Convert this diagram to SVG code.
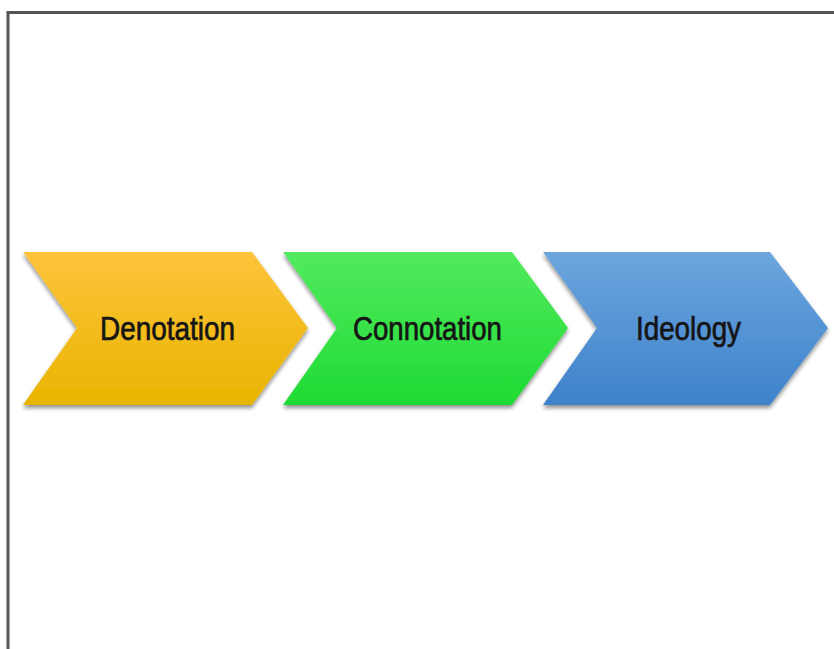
<svg xmlns="http://www.w3.org/2000/svg" width="834" height="649" viewBox="0 0 834 649">
<style>
.lbl{font-family:"Liberation Sans",Arial,sans-serif;font-size:33px;fill:#151515;stroke:#151515;stroke-width:0.7;text-anchor:start}
.frame{fill:none;stroke:#555;stroke-width:3}
</style>
<defs>
<linearGradient id="gy" x1="0" y1="0" x2="0" y2="1"><stop offset="0" stop-color="#fdc43c"/><stop offset="1" stop-color="#e9b400"/></linearGradient>
<linearGradient id="gg" x1="0" y1="0" x2="0" y2="1"><stop offset="0" stop-color="#52ea5e"/><stop offset="1" stop-color="#1edb33"/></linearGradient>
<linearGradient id="gb" x1="0" y1="0" x2="0" y2="1"><stop offset="0" stop-color="#6da6dd"/><stop offset="1" stop-color="#3d82cb"/></linearGradient>
<filter id="sh" x="-10%" y="-10%" width="120%" height="130%"><feGaussianBlur in="SourceAlpha" stdDeviation="2"/><feOffset dx="0" dy="3"/><feComponentTransfer><feFuncA type="linear" slope="0.45"/></feComponentTransfer><feMerge><feMergeNode/><feMergeNode in="SourceGraphic"/></feMerge></filter>
</defs>
<rect width="834" height="649" fill="#fff"/>
<path class="frame" d="M8,649 V12.5 H834"/>
<g id="denotation">
<polygon points="23,252 252,252 308,328 252,405 23,405 77,328" fill="url(#gy)" filter="url(#sh)"/>
<text class="lbl" x="100" y="340" textLength="135" lengthAdjust="spacingAndGlyphs">Denotation</text>
</g>
<g id="connotation">
<polygon points="283,252 512,252 568,328 512,405 283,405 337,328" fill="url(#gg)" filter="url(#sh)"/>
<text class="lbl" x="353" y="340" textLength="149" lengthAdjust="spacingAndGlyphs">Connotation</text>
</g>
<g id="ideology">
<polygon points="543,252 770,252 828,328 770,405 543,405 597,328" fill="url(#gb)" filter="url(#sh)"/>
<text class="lbl" x="636" y="340" textLength="105" lengthAdjust="spacingAndGlyphs">Ideology</text>
</g>
<g id="connectors"></g>
</svg>
